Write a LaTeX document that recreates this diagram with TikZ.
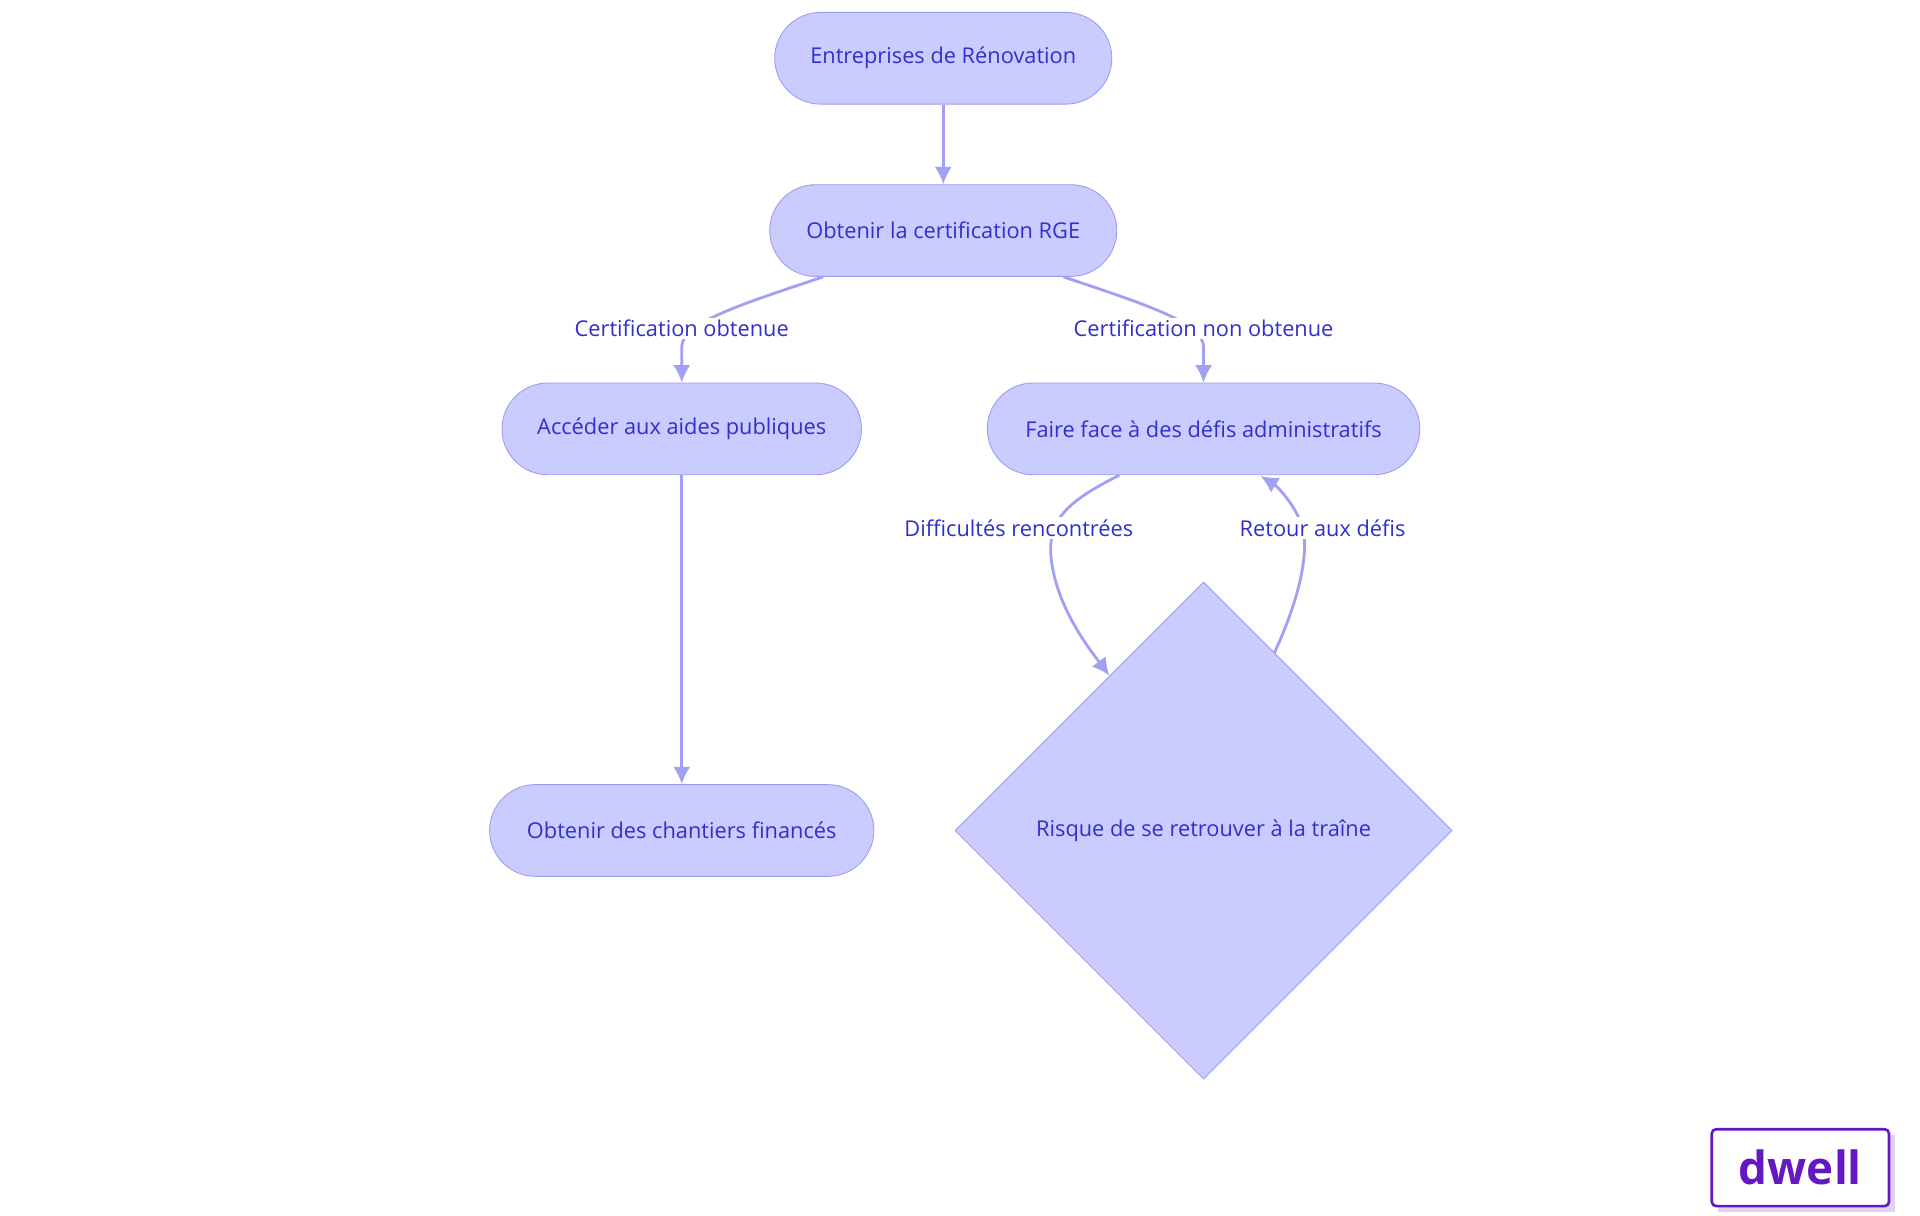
\documentclass[tikz,border=0pt]{standalone}
\usepackage{fontspec}
\setmainfont{Open Sans}
\usetikzlibrary{shapes.geometric,arrows.meta}
\definecolor{nfill}{HTML}{CACBFE}
\definecolor{nline}{HTML}{9C9CEE}
\definecolor{ntext}{HTML}{3030CC}
\definecolor{eline}{HTML}{A0A0F4}
\definecolor{logo}{HTML}{6418C3}
\begin{document}
\begin{tikzpicture}[x=0.02cm,y=-0.02cm,
  box/.style={draw=nline,fill=nfill,text=ntext,rounded corners=37*0.02cm,minimum height=74*0.02cm,font=\fontsize{10}{12}\selectfont,inner sep=0pt},
  lab/.style={fill=white,text=ntext,font=\fontsize{10}{12}\selectfont,inner sep=1pt},
  edge/.style={draw=eline,line width=1.3pt,-{Latex[length=8pt,width=8pt]}}]
\useasboundingbox (0,0) rectangle (1549,981);
\node[box,minimum width=272*0.02cm] (ent) at (761,47) {Entreprises de Rénovation};
\node[box,minimum width=280*0.02cm] (rge) at (761,186) {Obtenir la certification RGE};
\node[box,minimum width=290*0.02cm] (acc) at (550,346) {Accéder aux aides publiques};
\node[box,minimum width=349*0.02cm] (fac) at (971,346) {Faire face à des défis administratifs};
\node[box,minimum width=310*0.02cm] (cha) at (550,670) {Obtenir des chantiers financés};
\node[diamond,draw=nline,fill=nfill,text=ntext,minimum width=401*0.02cm,minimum height=401*0.02cm,inner sep=0pt,font=\fontsize{10}{12}\selectfont] (ris) at (971,670) {Risque de se retrouver à la traîne};
\draw[edge] (ent) -- (rge);
\draw[edge] (acc) -- (cha);
\draw[edge] (rge.south)++(-97,0) .. controls (600,245) and (550,260) .. (550,280) -- (acc.north);
\draw[edge] (rge.south)++(97,0) .. controls (922,245) and (971,260) .. (971,280) -- (fac.north);
\draw[edge] (fac.south)++(-68,0) .. controls (860,405) and (845,420) .. (848,450) .. controls (852,490) and (880,525) .. (895,545);
\draw[edge] (1028,527) .. controls (1045,490) and (1055,455) .. (1052,430) .. controls (1048,410) and (1030,392) .. (1017,384);
\node[lab] (l1) at (550,265) {Certification obtenue};
\node[lab] (l2) at (971,265) {Certification non obtenue};
\node[lab] (l3) at (822,426) {Difficultés rencontrées};
\node[lab] (l4) at (1067,426) {Retour aux défis};
\fill[logo!20] (1386,916) rectangle (1529,978);
\node[draw=logo,line width=1.2pt,fill=white,minimum width=143*0.02cm,minimum height=62*0.02cm,rounded corners=2pt,text=logo,font=\fontsize{21}{24}\selectfont\bfseries] (dw) at (1452.5,942) {dwell};
\end{tikzpicture}
\end{document}
